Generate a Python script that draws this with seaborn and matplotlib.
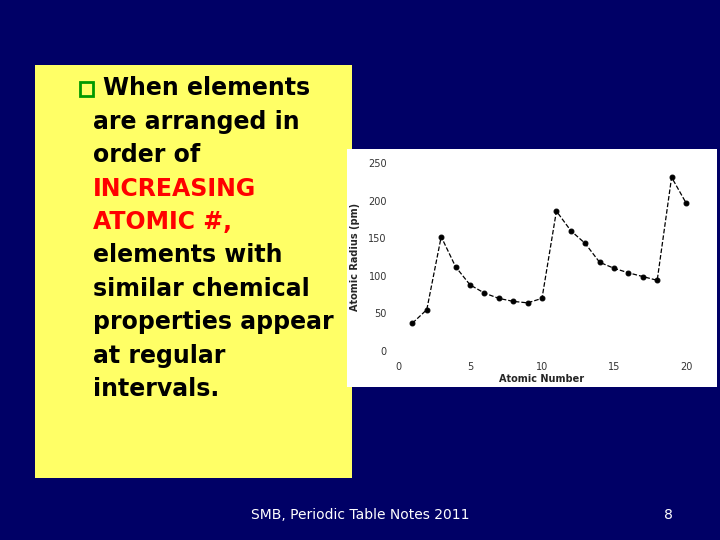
import matplotlib
matplotlib.use("Agg")
import matplotlib.pyplot as plt
import matplotlib.patches as mpatches
import seaborn as sns
import pandas as pd

atomic_number = list(range(1, 21))
atomic_radius = [37, 55, 152, 112, 88, 77, 70, 66, 64, 70, 186, 160, 143, 118, 110, 104, 99, 94, 231, 197]
x_ticks = [0, 5, 10, 15, 20]
y_ticks = [0, 50, 100, 150, 200, 250]

sns.set_style("white")
plt.rcParams['font.family'] = ['DejaVu Sans']

fig = plt.figure(figsize=(7.2, 5.4), dpi=100)
fig.patch.set_facecolor("#000066")

W, H = 720, 540
def box(x0, y0, x1, y1, color):
    fig.patches.append(mpatches.Rectangle((x0 / W, 1 - y1 / H), (x1 - x0) / W, (y1 - y0) / H,
                                          transform=fig.transFigure, facecolor=color, edgecolor="none", zorder=0))
box(35, 65, 352, 478, "#FFFF66")
box(347, 149, 717, 387, "white")

lines = [("When elements", "black"), ("are arranged in", "black"), ("order of", "black"),
         ("INCREASING", "#FF0000"), ("ATOMIC #,", "#FF0000"), ("elements with", "black"),
         ("similar chemical", "black"), ("properties appear", "black"), ("at regular", "black"),
         ("intervals.", "black")]
for i, (t, c) in enumerate(lines):
    xx = 103 if i == 0 else 93
    fig.text(xx / W, 1 - (88 + i * 33.5) / H, t, color=c, fontsize=17, fontweight="bold",
             va="center", ha="left")
fig.patches.append(mpatches.Rectangle((80 / W, 1 - 96 / H), 13 / W, 14 / H, transform=fig.transFigure,
                                      facecolor="none", edgecolor="#009900", linewidth=2, zorder=3))

ax = fig.add_axes([398 / W, 1 - 351 / H, 288 / W, 188 / H])
ax.set_zorder(10)
ax.patch.set_visible(False)
df = pd.DataFrame({"n": atomic_number, "r": atomic_radius})
sns.lineplot(data=df, x="n", y="r", ax=ax, color="black", linestyle="--", linewidth=0.9,
             marker="o", markersize=3.5, markeredgecolor="black", clip_on=False)
ax.set_xlim(0, 20)
ax.set_ylim(0, 250)
ax.set_xticks(x_ticks)
ax.set_yticks(y_ticks)
for s in ax.spines.values():
    s.set_visible(False)
ax.tick_params(length=0, labelsize=7, colors="#333333", pad=8)
ax.set_xlabel("Atomic Number", fontsize=7, fontweight="bold", labelpad=1)
ax.set_ylabel("Atomic Radius (pm)", fontsize=7, fontweight="bold", labelpad=6)

fig.text(360 / W, 1 - 515 / H, "SMB, Periodic Table Notes 2011", color="white", fontsize=10, ha="center", va="center")
fig.text(668 / W, 1 - 515 / H, "8", color="white", fontsize=10, ha="center", va="center")

fig.savefig("out.png", dpi=100, facecolor=fig.get_facecolor())
